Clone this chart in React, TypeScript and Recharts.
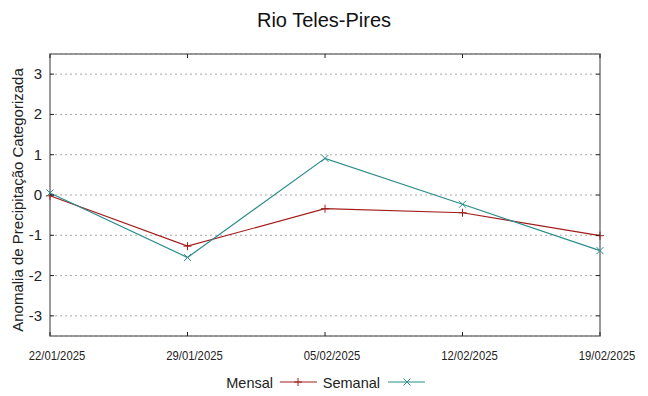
import { LineChart, Line, XAxis, YAxis, CartesianGrid, ReferenceArea } from "recharts";

const dates = ["22/01/2025", "29/01/2025", "05/02/2025", "12/02/2025", "19/02/2025"];
const mensal = [-0.02, -1.27, -0.34, -0.44, -1.01];
const semanal = [0.05, -1.55, 0.91, -0.23, -1.38];
const yTicks = [-3, -2, -1, 0, 1, 2, 3];

const data = dates.map((d, i) => ({ date: d, mensal: mensal[i], semanal: semanal[i] }));

const W = 648;
const H = 396;
const LEFT = 50;
const RIGHT = 600;
const TOP = 54;
const BOTTOM = 336;
const RED = "#a31c1c";
const TEAL = "#2a8c8c";
const FONT = "'Liberation Sans', Arial, sans-serif";

function XTick({ x, y, payload }: any) {
  return (
    <g>
      <line x1={x} y1={BOTTOM} x2={x} y2={BOTTOM - 4} stroke="#222" />
      <line x1={x} y1={TOP} x2={x} y2={TOP + 4} stroke="#222" />
      <text
        x={x + 7}
        y={y + 24.5}
        textAnchor="middle"
        fontSize={12}
        fontFamily={FONT}
        fill="#222"
        transform={`translate(${x + 7},0) scale(0.94,1) translate(${-(x + 7)},0)`}
      >
        {payload.value}
      </text>
    </g>
  );
}

function YTick({ x, y, payload }: any) {
  return (
    <g>
      <line x1={LEFT} y1={y} x2={LEFT + 4} y2={y} stroke="#222" />
      <line x1={RIGHT} y1={y} x2={RIGHT - 4} y2={y} stroke="#222" />
      <text x={x - 8} y={y + 5} textAnchor="end" fontSize={15} fontFamily={FONT} fill="#222">
        {payload.value}
      </text>
    </g>
  );
}

function PlusDot({ cx, cy }: any) {
  if (cx == null || cy == null) return null;
  return (
    <g>
      <line x1={cx - 4} y1={cy} x2={cx + 4} y2={cy} stroke={RED} />
      <line x1={cx} y1={cy - 4} x2={cx} y2={cy + 4} stroke={RED} />
    </g>
  );
}

function CrossDot({ cx, cy }: any) {
  if (cx == null || cy == null) return null;
  return (
    <g>
      <line x1={cx - 3.5} y1={cy - 3.5} x2={cx + 3.5} y2={cy + 3.5} stroke={TEAL} />
      <line x1={cx - 3.5} y1={cy + 3.5} x2={cx + 3.5} y2={cy - 3.5} stroke={TEAL} />
    </g>
  );
}

export default function App() {
  return (
    <div style={{ position: "absolute", left: 0, top: 0, width: W, height: H, background: "#fff" }}>
      <LineChart
        width={W}
        height={H}
        data={data}
        margin={{ top: TOP, right: W - RIGHT, bottom: H - BOTTOM - 30, left: LEFT - 40 }}
      >
        <CartesianGrid vertical={false} stroke="#a8a8a8" strokeDasharray="2 3" />
        <ReferenceArea
          x1={dates[0]}
          x2={dates[dates.length - 1]}
          y1={-3.5}
          y2={3.5}
          fill="none"
          stroke="#7a7a7a"
          strokeWidth={1.5}
          fillOpacity={0}
          strokeOpacity={1}
        />
        <XAxis
          dataKey="date"
          height={30}
          axisLine={false}
          tickLine={false}
          tickSize={0}
          tickMargin={0}
          tick={<XTick />}
          interval={0}
        />
        <YAxis
          width={40}
          domain={[-3.5, 3.5]}
          ticks={yTicks}
          axisLine={false}
          tickLine={false}
          tickSize={0}
          tickMargin={0}
          tick={<YTick />}
          interval={0}
        />
        <Line
          dataKey="mensal"
          stroke={RED}
          strokeWidth={1.2}
          dot={<PlusDot />}
          activeDot={false}
          isAnimationActive={false}
          type="linear"
        />
        <Line
          dataKey="semanal"
          stroke={TEAL}
          strokeWidth={1.2}
          dot={<CrossDot />}
          activeDot={false}
          isAnimationActive={false}
          type="linear"
        />
      </LineChart>
      <svg
        width={W}
        height={H}
        style={{ position: "absolute", left: 0, top: 0, pointerEvents: "none" }}
      >
        <text x={324} y={27} textAnchor="middle" fontSize={20} fontFamily={FONT} fill="#111">
          Rio Teles-Pires
        </text>
        <text
          x={0}
          y={0}
          transform="translate(23,200) rotate(-90)"
          textAnchor="middle"
          fontSize={15}
          fontFamily={FONT}
          fill="#222"
        >
          Anomalia de Precipitação Categorizada
        </text>
        <text x={273} y={388} textAnchor="end" fontSize={14.5} fontFamily={FONT} fill="#222">
          Mensal
        </text>
        <line x1={280} y1={382} x2={317} y2={382} stroke={RED} strokeWidth={1.2} />
        <PlusDot cx={298} cy={382} />
        <text x={380} y={388} textAnchor="end" fontSize={14.5} fontFamily={FONT} fill="#222">
          Semanal
        </text>
        <line x1={388} y1={382} x2={425} y2={382} stroke={TEAL} strokeWidth={1.2} />
        <CrossDot cx={407} cy={382} />
      </svg>
    </div>
  );
}
